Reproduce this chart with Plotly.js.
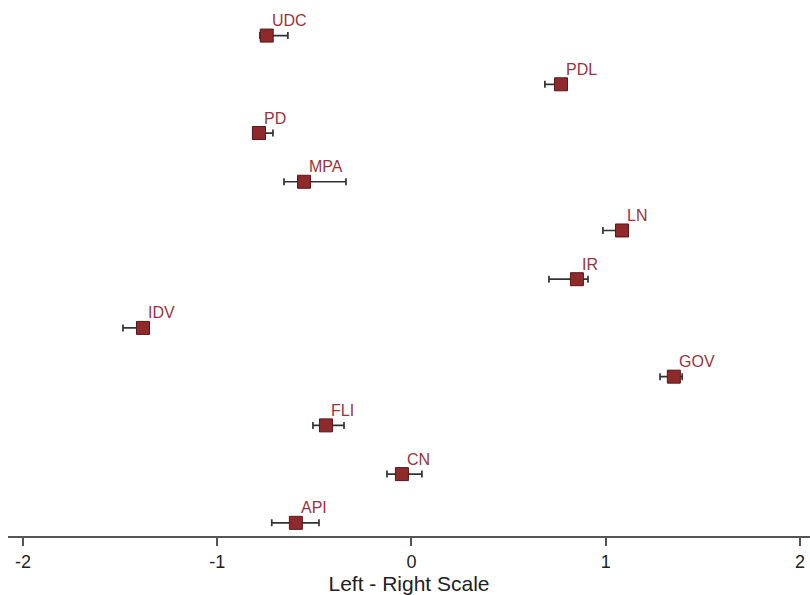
<!DOCTYPE html>
<html>
<head>
<meta charset="utf-8">
<script src="https://cdn.plot.ly/plotly-3.0.1.min.js"></script>
<style>
html,body{margin:0;padding:0;background:#fff;}
#chart{width:810px;height:595px;}
</style>
</head>
<body>
<div id="chart"></div>
<script>
// Parties, top to bottom
const parties = ["UDC","PDL","PD","MPA","LN","IR","IDV","GOV","FLI","CN","API"];
// Left-right placement estimates
const estimate = [-0.745, 0.770, -0.785, -0.553, 1.084, 0.852, -1.382, 1.351, -0.440, -0.049, -0.595];
// Interval lower / upper bounds
const lower = [-0.780, 0.687, -0.800, -0.656, 0.986, 0.708, -1.485, 1.280, -0.507, -0.126, -0.719];
const upper = [-0.636, 0.780, -0.713, -0.337, 1.115, 0.909, -1.360, 1.394, -0.347, 0.054, -0.476];
const xTicks = [-2, -1, 0, 1, 2];

const n = parties.length;
const yPos = parties.map((p, i) => n - i);

const trace = {
  type: "scatter",
  mode: "markers",
  x: estimate,
  y: yPos,
  marker: {symbol: "square", size: 13, color: "#8e2a2c", line: {color: "#5a1618", width: 1}},
  error_x: {
    type: "data",
    symmetric: false,
    array: upper.map((u, i) => u - estimate[i]),
    arrayminus: lower.map((l, i) => estimate[i] - l),
    color: "#333333",
    thickness: 1.7,
    width: 3.5
  },
  hoverinfo: "skip",
  showlegend: false
};

const annotations = parties.map((p, i) => ({
  x: estimate[i], y: yPos[i], xref: "x", yref: "y",
  text: p, showarrow: false,
  xanchor: "left", yanchor: "middle",
  xshift: 3, yshift: 15,
  font: {family: "Liberation Sans, Arial, sans-serif", size: 16, color: "#9a3340"}
}));

const layout = {
  width: 810, height: 595,
  margin: {l: 8, r: 0, t: 0, b: 59},
  paper_bgcolor: "#ffffff",
  plot_bgcolor: "#ffffff",
  xaxis: {
    range: [-2.077, 2.052],
    tickvals: xTicks,
    ticktext: xTicks.map(String),
    ticks: "outside", ticklen: 8, tickwidth: 2, tickcolor: "#555555",
    showline: true, linecolor: "#555555", linewidth: 2,
    showgrid: false, zeroline: false,
    tickfont: {family: "Liberation Sans, Arial, sans-serif", size: 18, color: "#222222"},
    title: {text: "Left - Right Scale", standoff: 2,
            font: {family: "Liberation Sans, Arial, sans-serif", size: 21, color: "#222222"}}
  },
  yaxis: {
    range: [0.73, 11.73],
    visible: false, showgrid: false, zeroline: false
  },
  annotations: annotations
};

Plotly.newPlot("chart", [trace], layout, {displayModeBar: false, staticPlot: true});
</script>
</body>
</html>
